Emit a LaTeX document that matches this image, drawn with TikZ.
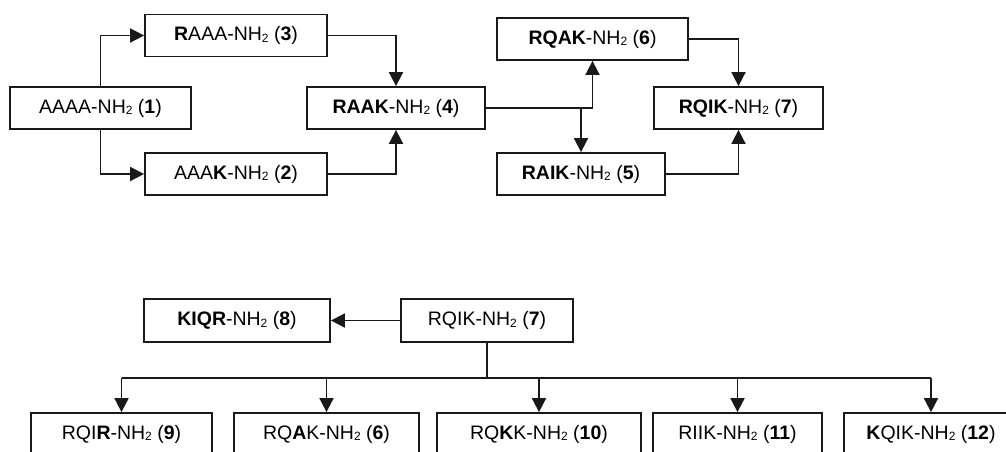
\documentclass[tikz,border=0pt]{standalone}
\usepackage{fontspec}
\setmainfont{Liberation Sans}
\usetikzlibrary{arrows.meta}
\newcommand{\nhtwo}{NH\raisebox{-1.5pt}{\fontsize{12}{12}\selectfont 2}}
\begin{document}
\begin{tikzpicture}[x=1pt,y=-1pt,
  box/.style={draw=black!90, line width=1.8pt, minimum height=42pt, inner sep=0pt,
    font=\fontsize{19.5}{22}\selectfont, anchor=center},
  conn/.style={line width=1.8pt, black!90},
  arr/.style={conn, -{Triangle[length=14pt,width=14pt]}}]
\useasboundingbox (0,0) rectangle (1006,451);
\clip (0,0) rectangle (1006,451);
% top part
\node[box, minimum width=181pt] (b1) at (100.5,108) {AAAA-\nhtwo{} (\textbf{1})};
\node[box, minimum width=182pt] (b3) at (236,35.5) {\textbf{R}AAA-\nhtwo{} (\textbf{3})};
\node[box, minimum width=182pt] (b2) at (236,174) {AAA\textbf{K}-\nhtwo{} (\textbf{2})};
\node[box, minimum width=178pt] (b4) at (396,108) {\textbf{RAAK}-\nhtwo{} (\textbf{4})};
\node[box, minimum width=191pt] (b6) at (592.5,39) {\textbf{RQAK}-\nhtwo{} (\textbf{6})};
\node[box, minimum width=168pt] (b5) at (581,174) {\textbf{RAIK}-\nhtwo{} (\textbf{5})};
\node[box, minimum width=169pt] (b7) at (738.5,108) {\textbf{RQIK}-\nhtwo{} (\textbf{7})};
\draw[arr] (b1.north) |- (b3.west);
\draw[arr] (b1.south) |- (b2.west);
\draw[arr] (b3.east) -| (b4.north);
\draw[arr] (b2.east) -| (b4.south);
\draw[arr] (b4.east) -| (b6.south);
\coordinate (br) at (b5.north |- b4.east);
\draw[arr] (br) -- (b5.north);
\draw[arr] (b6.east) -| (b7.north);
\draw[arr] (b5.east) -| (b7.south);
% bottom part
\node[box, minimum width=186pt, minimum height=43pt] (b8) at (237,320.5) {\textbf{KIQR}-\nhtwo{} (\textbf{8})};
\node[box, minimum width=172pt, minimum height=43pt] (c7) at (487,320.5) {RQIK-\nhtwo{} (\textbf{7})};
\draw[arr] (c7.west) -- (b8.east);
\node[box, minimum width=181pt] (b9) at (121.5,434) {RQI\textbf{R}-\nhtwo{} (\textbf{9})};
\node[box, minimum width=185pt] (d6) at (326.5,434) {RQ\textbf{A}K-\nhtwo{} (\textbf{6})};
\node[box, minimum width=204pt] (b10) at (539,434) {RQ\textbf{K}K-\nhtwo{} (\textbf{10})};
\node[box, minimum width=169pt] (b11) at (737.5,434) {RIIK-\nhtwo{} (\textbf{11})};
\node[box, minimum width=174pt] (b12) at (931,434) {\textbf{K}QIK-\nhtwo{} (\textbf{12})};
\coordinate (j) at (487,378);
\draw[conn] (c7.south) -- (j);
\draw[conn] (b9.north |- j) -- (b12.north |- j);
\foreach \n in {b9,d6,b10,b11,b12}
  \draw[arr] (\n.north |- j) -- (\n.north);
\end{tikzpicture}
\end{document}
